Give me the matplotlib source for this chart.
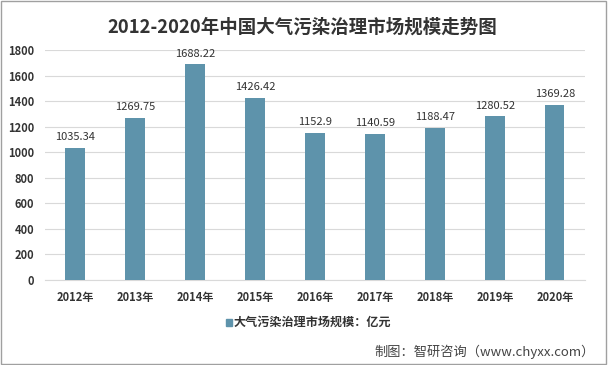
import matplotlib
matplotlib.use('Agg')
import matplotlib.pyplot as plt

plt.rcParams['font.family'] = ['Noto Sans CJK SC', 'DejaVu Sans']

years = ['2012年', '2013年', '2014年', '2015年', '2016年', '2017年', '2018年', '2019年', '2020年']
values = [1035.34, 1269.75, 1688.22, 1426.42, 1152.9, 1140.59, 1188.47, 1280.52, 1369.28]
value_labels = ['1035.34', '1269.75', '1688.22', '1426.42', '1152.9', '1140.59', '1188.47', '1280.52', '1369.28']
yticks = [0, 200, 400, 600, 800, 1000, 1200, 1400, 1600, 1800]

bar_color = '#5E93AB'

fig = plt.figure(figsize=(6.08, 3.65), dpi=100)
ax = fig.add_axes([0.074, 0.233, 0.888, 0.630])

x = range(len(years))
ax.bar(x, values, width=0.32, color=bar_color, zorder=3)
for xi, v, lab in zip(x, values, value_labels):
    ax.text(xi, v + 45, lab, ha='center', va='bottom', fontsize=8, color='#333333')

ax.set_xlim(-0.5, len(years) - 0.5)
ax.set_ylim(0, 1800)
ax.set_yticks(yticks)
ax.set_yticklabels([str(t) for t in yticks], fontsize=8, fontweight='bold', color='#333333')
ax.set_xticks(list(x))
ax.set_xticklabels(years, fontsize=8, fontweight='bold', color='#333333')
ax.tick_params(axis='both', length=0, pad=8)
ax.grid(axis='y', color='#D9D9D9', linewidth=0.8, zorder=0)
for s in ['top', 'right', 'left']:
    ax.spines[s].set_visible(False)
ax.spines['bottom'].set_color('#D9D9D9')

fig.text(0.497, 0.925, '2012-2020年中国大气污染治理市场规模走势图', ha='center', va='center',
         fontsize=13.3, fontweight='bold', color='#333333')

# legend
fig.patches.append(plt.Rectangle((0.371, 0.108), 0.011, 0.019, transform=fig.transFigure,
                                 color=bar_color, figure=fig))
fig.text(0.385, 0.117, '大气污染治理市场规模：亿元', ha='left', va='center',
         fontsize=8.7, fontweight='bold', color='#333333')

fig.text(0.979, 0.035, '制图：智研咨询（www.chyxx.com）', ha='right', va='center',
         fontsize=9.5, color='#444444')

# outer border
fig.patches.append(plt.Rectangle((0.002, 0.003), 0.995, 0.994, transform=fig.transFigure,
                                 fill=False, edgecolor='#A0A0A0', linewidth=1, figure=fig))

plt.savefig('out.png', dpi=100)
plt.close()
